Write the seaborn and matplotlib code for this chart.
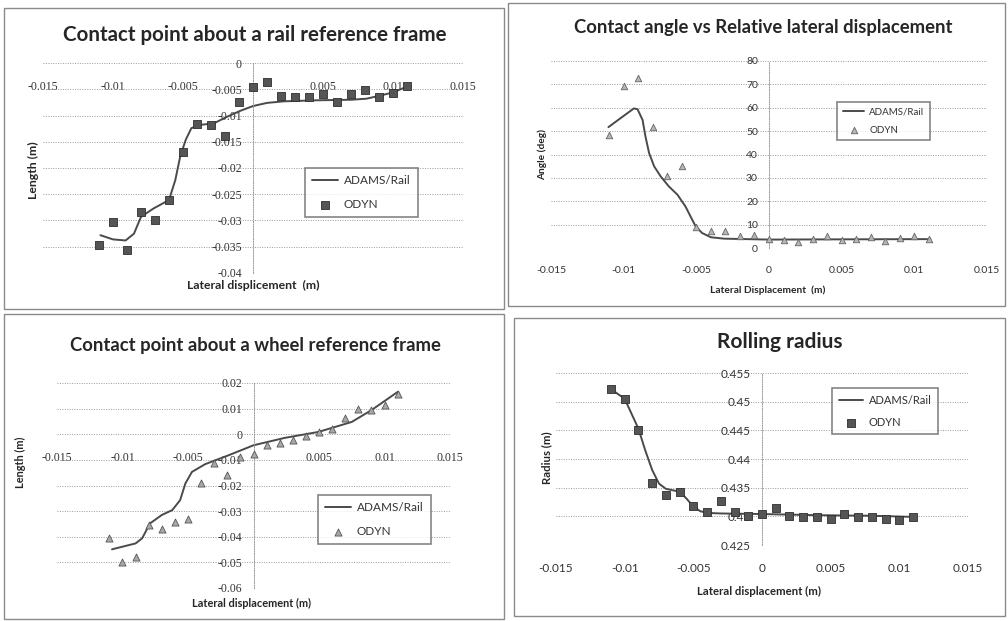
import seaborn as sns
import matplotlib.pyplot as plt
from matplotlib.patches import Rectangle
from matplotlib.ticker import FuncFormatter
import numpy as np

sns.set_theme(style="white")
plt.rcParams["font.family"] = ["Lato", "DejaVu Sans"]

# ------------------------------------------------------------------
# data (lateral displacement read in mm, scaled to m below)
# ------------------------------------------------------------------
odyn_x_mm = [-11, -10, -9, -8, -7, -6, -5, -4, -3, -2, -1, 0,
             1, 2, 3, 4, 5, 6, 7, 8, 9, 10, 11]

# 1. contact point about a rail reference frame (length, mm)
rail_odyn_y = [-34.7, -30.3, -35.7, -28.3, -29.9, -26.1, -17.0, -11.6, -11.8, -14.0, -7.4, -4.6,
               -3.7, -6.3, -6.4, -6.4, -5.9, -7.5, -5.9, -5.2, -6.4, -5.7, -4.3]
rail_adams_x = [-10.9, -10.0, -9.1, -8.5, -8.0, -7.1, -6.0, -5.55, -5.2, -4.8, -4.4, -3.8,
                -2.8, -1.9, -0.9, 0.0, 1.0, 2.2, 4.6, 7.0, 8.1, 9.1, 10.0, 11.0]
rail_adams_y = [-32.8, -33.6, -33.8, -32.5, -29.3, -27.7, -26.1, -22.3, -17.8, -14.6, -12.4, -11.8,
                -11.5, -10.3, -9.1, -8.2, -7.6, -7.3, -7.1, -7.0, -6.8, -6.2, -5.6, -4.5]

# 2. contact angle (deg)
angle_odyn_y = [48.4, 69.4, 72.6, 51.6, 30.6, 34.9, 9.0, 7.1, 7.1, 5.3, 5.7, 4.0,
                3.6, 2.7, 3.8, 5.0, 3.6, 4.0, 4.7, 3.1, 4.3, 5.0, 3.8]
angle_adams_x = [-11.05, -10.2, -9.3, -9.05, -8.7, -8.5, -8.25, -7.9, -7.45, -6.9, -6.3, -5.75,
                 -5.4, -5.05, -4.6, -4.0, -3.1, 0.0, 4.7, 11.1]
angle_adams_y = [51.7, 55.6, 59.7, 59.4, 54.8, 47.7, 40.6, 34.9, 30.6, 26.4, 22.8, 17.8,
                 13.5, 9.3, 6.4, 4.6, 4.0, 3.6, 3.7, 3.8]

# 3. contact point about a wheel reference frame (length, mm)
wheel_odyn_y = [-40.4, -50.0, -47.8, -35.5, -37.0, -34.2, -32.9, -19.0, -11.2, -16.0, -9.0, -7.8,
                -4.0, -3.4, -2.3, -0.6, 0.9, 2.2, 6.5, 9.7, 9.4, 11.3, 15.8]
wheel_adams_x = [-10.8, -9.0, -8.5, -7.9, -7.0, -6.2, -5.6, -5.2, -4.7, -3.7, -1.9, 0.0,
                 2.4, 4.95, 7.5, 9.0, 11.0]
wheel_adams_y = [-44.9, -42.6, -40.6, -34.8, -31.5, -29.6, -25.7, -19.2, -14.7, -11.7, -8.2, -4.3,
                 -1.4, 0.9, 4.8, 9.4, 16.5]

# 4. rolling radius (m)
radius_odyn_y = [0.4522, 0.4505, 0.4450, 0.4359, 0.4337, 0.4343, 0.4318, 0.4308, 0.4327, 0.4307, 0.4301, 0.4304,
                 0.4315, 0.4301, 0.4299, 0.4298, 0.4295, 0.4304, 0.4299, 0.4298, 0.4295, 0.4294, 0.4299]
radius_adams_x = [-11, -10, -9, -8.5, -8, -7.5, -7, -6, -5.5, -5, -4.5, -4, -3, 0, 4, 8, 11]
radius_adams_y = [0.4522, 0.4505, 0.4453, 0.4415, 0.4381, 0.4357, 0.4348, 0.4343, 0.4331, 0.4317, 0.4309, 0.4306,
                  0.4305, 0.4304, 0.4302, 0.4301, 0.4299]

to_m = lambda v: np.asarray(v) / 1000.0

# ------------------------------------------------------------------
# figure
# ------------------------------------------------------------------
W, H = 1008, 621
fig = plt.figure(figsize=(W / 100, H / 100), dpi=100)
fig.patch.set_facecolor("white")


def px_axes(x0, x1, y0, y1):
    # pixel box (left, right, top, bottom) -> figure axes
    return fig.add_axes([x0 / W, 1 - y1 / H, (x1 - x0) / W, (y1 - y0) / H])


def ftext(x, y, s, **kw):
    fig.text(x / W, 1 - y / H, s, ha="center", va="center", **kw)


fmt = FuncFormatter(lambda v, p: format(round(v, 6) + 0.0, "g"))
LINE_C = "#4a4a4a"
GRID_C = "#9a9a9a"
TICK_FS = 8.5


def style_axes(ax, xticks, yticks, xlim, ylim, cross_zero, tickfont, xpad):
    ax.set_xlim(*xlim)
    ax.set_ylim(*ylim)
    ax.set_xticks(xticks)
    ax.set_yticks(yticks)
    ax.xaxis.set_major_formatter(fmt)
    ax.yaxis.set_major_formatter(fmt)
    ax.yaxis.grid(True, color=GRID_C, linestyle=(0, (1, 1.5)), linewidth=0.7)
    ax.xaxis.grid(False)
    ax.set_axisbelow(True)
    for s in ["top", "right"]:
        ax.spines[s].set_visible(False)
    ax.spines["left"].set_position(("data", 0))
    ax.spines["left"].set_color(GRID_C)
    ax.spines["left"].set_linestyle((0, (1, 1.5)))
    ax.spines["left"].set_linewidth(0.7)
    if cross_zero:
        ax.spines["bottom"].set_position(("data", 0))
    ax.spines["bottom"].set_visible(False)
    ax.tick_params(axis="x", length=0, pad=xpad, labelsize=TICK_FS, labelcolor="#333")
    ax.tick_params(axis="y", length=0, pad=8, labelsize=TICK_FS, labelcolor="#333")
    for lab in ax.get_xticklabels() + ax.get_yticklabels():
        lab.set_family(tickfont)
    ax.set_xlabel("")
    ax.set_ylabel("")
    ax.patch.set_alpha(0)


def add_legend(ax, x, y, fs=8.5, spacing=1.1):
    leg = ax.legend(loc="upper left", bbox_to_anchor=(x / W, 1 - y / H),
                    bbox_transform=fig.transFigure, fontsize=fs, frameon=True,
                    fancybox=False, handlelength=2.2, labelspacing=spacing,
                    borderpad=0.6, handletextpad=0.5, borderaxespad=0)
    leg.get_frame().set_edgecolor("#666")
    leg.get_frame().set_linewidth(1.2)
    for t in leg.get_texts():
        t.set_color("#333")


xt_all = [-0.015, -0.01, -0.005, 0, 0.005, 0.01, 0.015]
xt_no0 = [-0.015, -0.01, -0.005, 0.005, 0.01, 0.015]
serif = ["Liberation Serif", "DejaVu Serif"]
sans = ["Lato", "DejaVu Sans"]

# ---- panel 1: rail reference frame
ax1 = px_axes(43, 463, 63, 273)
sns.lineplot(x=to_m(rail_adams_x), y=to_m(rail_adams_y), ax=ax1, color=LINE_C,
             linewidth=1.4, sort=False, estimator=None, label="ADAMS/Rail")
sns.scatterplot(x=to_m(odyn_x_mm), y=to_m(rail_odyn_y), ax=ax1, marker="s", s=34,
                color="#555", edgecolor="#2e2e2e", linewidth=0.6, label="ODYN", zorder=3)
style_axes(ax1, xt_no0, np.arange(-0.04, 0.0001, 0.005), (-0.015, 0.015), (-0.04, 0),
           True, serif, 13)
add_legend(ax1, 305, 168)
ftext(255, 35, "Contact point about a rail reference frame", fontsize=14.8, fontweight="bold")
ftext(253, 285, "Lateral displicement  (m)", fontsize=8.8, fontweight="bold")
ftext(33, 170, "Length (m)", fontsize=8.8, fontweight="bold", rotation=90)

# ---- panel 2: contact angle
ax2 = px_axes(551, 987, 61, 248)
sns.lineplot(x=to_m(angle_adams_x), y=angle_adams_y, ax=ax2, color=LINE_C,
             linewidth=1.4, sort=False, estimator=None, label="ADAMS/Rail")
sns.scatterplot(x=to_m(odyn_x_mm), y=angle_odyn_y, ax=ax2, marker="^", s=22,
                color="#b5b5b5", edgecolor="#666", linewidth=0.6, label="ODYN", zorder=3)
style_axes(ax2, xt_all, np.arange(0, 81, 10), (-0.015, 0.015), (0, 80), False, sans, 13)
for lab in ax2.get_xticklabels() + ax2.get_yticklabels():
    lab.set_fontsize(7.5)
add_legend(ax2, 837, 102, fs=7, spacing=0.9)
ftext(763, 28, "Contact angle vs Relative lateral displacement", fontsize=13.3, fontweight="bold")
ftext(768, 290, "Lateral Displacement  (m)", fontsize=7.3, fontweight="bold")
ftext(542, 155, "Angle (deg)", fontsize=7.3, fontweight="bold", rotation=90)

# ---- panel 3: wheel reference frame
ax3 = px_axes(57, 450, 383, 588)
sns.lineplot(x=to_m(wheel_adams_x), y=to_m(wheel_adams_y), ax=ax3, color=LINE_C,
             linewidth=1.4, sort=False, estimator=None, label="ADAMS/Rail")
sns.scatterplot(x=to_m(odyn_x_mm), y=to_m(wheel_odyn_y), ax=ax3, marker="^", s=26,
                color="#a8a8a8", edgecolor="#555", linewidth=0.6, label="ODYN", zorder=3)
style_axes(ax3, xt_no0, np.arange(-0.06, 0.0201, 0.01), (-0.015, 0.015), (-0.06, 0.02),
           True, serif, 13)
add_legend(ax3, 318, 495)
ftext(255, 345, "Contact point about a wheel reference frame", fontsize=13.3, fontweight="bold")
ftext(252, 603, "Lateral displacement (m)", fontsize=7.9, fontweight="bold")
ftext(20, 462, "Length (m)", fontsize=7.9, fontweight="bold", rotation=90)

# ---- panel 4: rolling radius
ax4 = px_axes(556, 968, 373, 545)
sns.lineplot(x=to_m(radius_adams_x), y=radius_adams_y, ax=ax4, color=LINE_C,
             linewidth=1.4, sort=False, estimator=None, label="ADAMS/Rail")
sns.scatterplot(x=to_m(odyn_x_mm), y=radius_odyn_y, ax=ax4, marker="s", s=30,
                color="#555", edgecolor="#2e2e2e", linewidth=0.6, label="ODYN", zorder=3)
style_axes(ax4, xt_all, np.arange(0.425, 0.4551, 0.005), (-0.015, 0.015), (0.425, 0.455),
           False, sans, 13)
add_legend(ax4, 832, 388, fs=8, spacing=1.0)
ftext(780, 342, "Rolling radius", fontsize=15, fontweight="bold")
ftext(759, 591, "Lateral displacement (m)", fontsize=8.2, fontweight="bold")
ftext(547, 458, "Radius (m)", fontsize=8.2, fontweight="bold", rotation=90)

# chart frames
for (x0, y0, x1, y1) in [(4, 8, 504, 309), (508, 3, 1005, 306),
                         (4, 314, 504, 619), (514, 318, 1005, 616)]:
    fig.add_artist(Rectangle((x0 / W, 1 - y1 / H), (x1 - x0) / W, (y1 - y0) / H,
                             transform=fig.transFigure, fill=False,
                             edgecolor="#8a8a8a", linewidth=1.0))

fig.savefig("out.png", dpi=100)
plt.close(fig)
